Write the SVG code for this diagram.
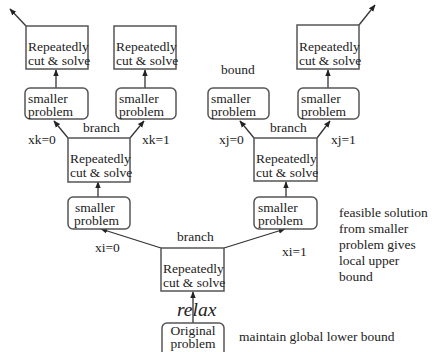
<svg xmlns="http://www.w3.org/2000/svg" width="433" height="352" viewBox="0 0 433 352">
<style>
text{font-family:'Liberation Serif','Times New Roman','DejaVu Serif',serif;font-size:13.5px;fill:#222}
.b{fill:#fff;stroke:#555;stroke-width:1.5}
.c{stroke:#333;stroke-width:1.3;fill:none;marker-end:url(#ah)}
.rx{font-size:19.5px;font-style:italic}
</style>
<defs>
<marker id="ah" viewBox="0 0 10 10" refX="9" refY="5" markerWidth="7" markerHeight="7" markerUnits="userSpaceOnUse" orient="auto">
<path d="M0,1 L10,5 L0,9 Z" fill="#222"/>
</marker>
</defs>
<rect width="433" height="352" fill="#fff"/>
<g id="connectors">
<path class="c" d="M26,26 L10,9"/>
<path class="c" d="M359,25 L375,5"/>
<path class="c" d="M56,88 L56,70"/>
<path class="c" d="M145,88 L145,70"/>
<path class="c" d="M328,88 L328,70"/>
<path class="c" d="M68,138 L54,121"/>
<path class="c" d="M130,138 L144,121"/>
<path class="c" d="M254,138 L240,121"/>
<path class="c" d="M317,138 L330,121"/>
<path class="c" d="M98,197 L98,182"/>
<path class="c" d="M286,197 L286,182"/>
<path class="c" d="M161,248 L101,229"/>
<path class="c" d="M224,248 L285,229"/>
<path class="c" d="M193,323 L193,292"/>
</g>
<g id="n_cut_ll"><rect class="b" x="26" y="26" width="62" height="43"/><text x="28" y="51">Repeatedly</text><text x="28" y="65">cut &amp; solve</text></g>
<g id="n_cut_lr"><rect class="b" x="114" y="26" width="62" height="43"/><text x="116" y="51">Repeatedly</text><text x="116" y="65">cut &amp; solve</text></g>
<g id="n_cut_rr"><rect class="b" x="297" y="25" width="62" height="44"/><text x="299" y="51">Repeatedly</text><text x="299" y="65">cut &amp; solve</text></g>
<g id="n_sp_ll"><rect class="b" x="25" y="88" width="63" height="31" rx="5"/><text x="28" y="103">smaller</text><text x="28" y="116">problem</text></g>
<g id="n_sp_lr"><rect class="b" x="116" y="88" width="60" height="31" rx="5"/><text x="119" y="103">smaller</text><text x="119" y="116">problem</text></g>
<g id="n_sp_rl"><rect class="b" x="208" y="88" width="61" height="31" rx="5"/><text x="211" y="103">smaller</text><text x="211" y="116">problem</text></g>
<g id="n_sp_rr"><rect class="b" x="298" y="88" width="61" height="31" rx="5"/><text x="301" y="103">smaller</text><text x="301" y="116">problem</text></g>
<g id="n_cut_l"><rect class="b" x="68" y="138" width="62" height="44"/><text x="70" y="163">Repeatedly</text><text x="70" y="177">cut &amp; solve</text></g>
<g id="n_cut_r"><rect class="b" x="254" y="138" width="63" height="43"/><text x="256" y="163">Repeatedly</text><text x="256" y="177">cut &amp; solve</text></g>
<g id="n_sp_l"><rect class="b" x="68" y="197" width="62" height="32" rx="5"/><text x="75" y="212">smaller</text><text x="74" y="225">problem</text></g>
<g id="n_sp_r"><rect class="b" x="254" y="197" width="63" height="32" rx="5"/><text x="258" y="212">smaller</text><text x="258" y="225">problem</text></g>
<g id="n_cut_root"><rect class="b" x="161" y="248" width="63" height="43"/><text x="163" y="273">Repeatedly</text><text x="163" y="287">cut &amp; solve</text></g>
<g id="n_orig"><rect class="b" x="162" y="323" width="62" height="34" rx="5"/><text x="193" y="335" text-anchor="middle">Original</text><text x="193" y="348" text-anchor="middle">problem</text></g>
<g id="labels">
<text x="83" y="132">branch</text>
<text x="28" y="144">xk=0</text>
<text x="142" y="144">xk=1</text>
<text x="221" y="74">bound</text>
<text x="270" y="132">branch</text>
<text x="219" y="144">xj=0</text>
<text x="331" y="144">xj=1</text>
<text x="177" y="241">branch</text>
<text x="95" y="252">xi=0</text>
<text x="282" y="256">xi=1</text>
<text class="rx" x="177" y="316">relax</text>
<text x="339" y="217">feasible solution</text>
<text x="339" y="233">from smaller</text>
<text x="339" y="249">problem gives</text>
<text x="339" y="265">local upper</text>
<text x="339" y="281">bound</text>
<text x="239" y="341">maintain global lower bound</text>
</g>
</svg>
